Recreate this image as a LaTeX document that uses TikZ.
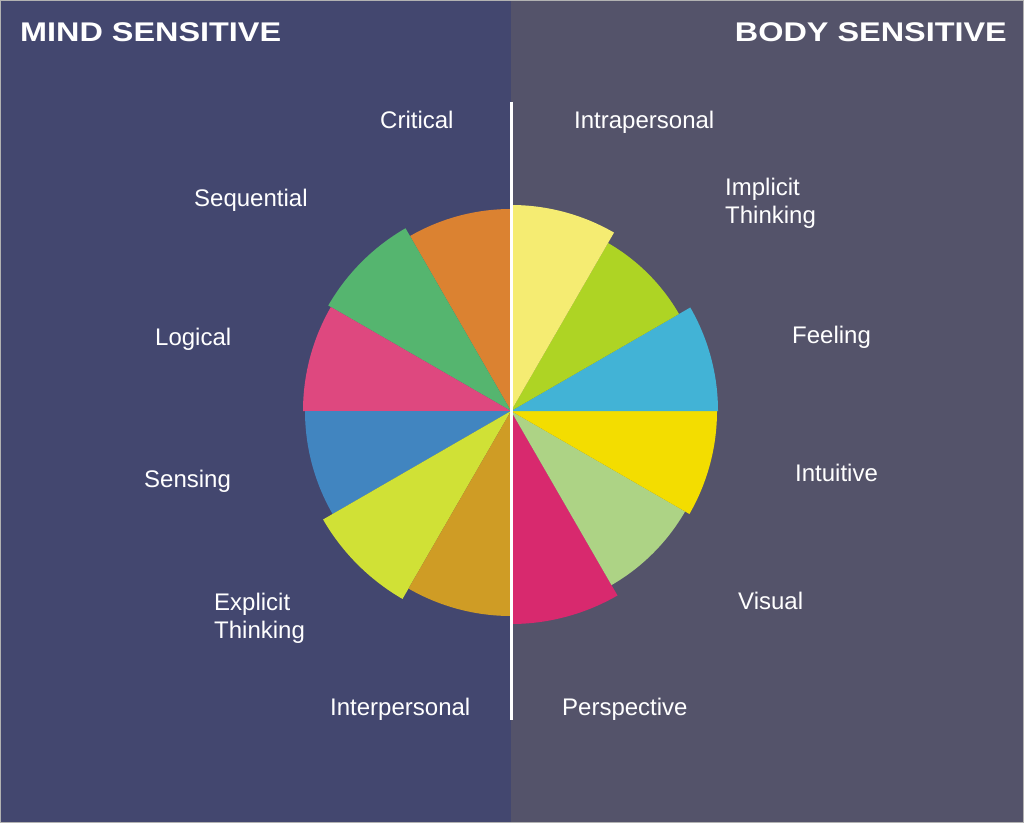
\documentclass[tikz,border=0pt]{standalone}
\usepackage{fontspec}
\setmainfont{Liberation Sans}
\usepackage{graphicx}
\usetikzlibrary{positioning}

\definecolor{mindbg}{HTML}{43476F}
\definecolor{bodybg}{HTML}{54536A}
\definecolor{wOrange}{HTML}{DB8231}
\definecolor{wGreen}{HTML}{55B56F}
\definecolor{wPink}{HTML}{DE487F}
\definecolor{wBlue}{HTML}{4185C0}
\definecolor{wLime}{HTML}{D0E136}
\definecolor{wGold}{HTML}{CF9C25}
\definecolor{wCrimson}{HTML}{D8296E}
\definecolor{wMint}{HTML}{ADD385}
\definecolor{wYellow}{HTML}{F3DD00}
\definecolor{wCyan}{HTML}{42B3D6}
\definecolor{wApple}{HTML}{AED424}
\definecolor{wCream}{HTML}{F5EC72}

\begin{document}
\begin{tikzpicture}[x=1pt,y=1pt,
  lbl/.style={text=white, font=\fontsize{24}{27.5}\selectfont, inner sep=0pt, align=left},
  ttl/.style={text=white, font=\fontsize{27}{32}\selectfont\bfseries, inner sep=0pt}]
%panels
\fill[mindbg] (0,0) rectangle (511,823);
\fill[bodybg] (511,0) rectangle (1024,823);
\draw[gray!60, line width=1pt] (0.5,0.5) rectangle (1023.5,822.5);
\useasboundingbox (0,0) rectangle (1024,823);
%titles
\node[ttl, anchor=base west] (mind) at (20,781.5) {\scalebox{1.2}[1]{MIND SENSITIVE}};
\node[ttl, anchor=base east] (body) at (1007,781.5) {\scalebox{1.2}[1]{BODY SENSITIVE}};
%wheel
\coordinate (ctr) at (511,412);
\foreach \a/\r/\c in {90/202/wOrange, 120/211/wGreen, 150/208/wPink, 180/206/wBlue,
  210/217/wLime, 240/205/wGold, 270/213/wCrimson, 300/201/wMint,
  330/206/wYellow, 0/207/wCyan, 30/194/wApple, 60/206/wCream}
  \fill[\c] (ctr) -- ++(\a:\r) arc[start angle=\a, delta angle=30, radius=\r] -- cycle;
%divider
\coordinate (top) at (511,721);
\coordinate (bot) at (511,103);
\draw[white, line width=3pt] (top) -- (bot);
%mind labels
\node[lbl, anchor=base west] (critical) at (380,694) {Critical};
\node[lbl, anchor=base west] (sequential) at (194,616) {Sequential};
\node[lbl, anchor=base west] (logical) at (155,478) {Logical};
\node[lbl, anchor=base west] (sensing) at (144,336) {Sensing};
\node[lbl, anchor=north west] (explicit) at (214,230) {Explicit\\Thinking};
\node[lbl, anchor=base west] (interpersonal) at (330,108) {Interpersonal};
%body labels
\node[lbl, anchor=base west] (intrapersonal) at (574,694) {Intrapersonal};
\node[lbl, anchor=north west] (implicit) at (725,645) {Implicit\\Thinking};
\node[lbl, anchor=base west] (feeling) at (792,479) {Feeling};
\node[lbl, anchor=base west] (intuitive) at (795,342) {Intuitive};
\node[lbl, anchor=base west] (visual) at (738,214) {Visual};
\node[lbl, anchor=base west] (perspective) at (562,108) {Perspective};
\end{tikzpicture}
\end{document}
